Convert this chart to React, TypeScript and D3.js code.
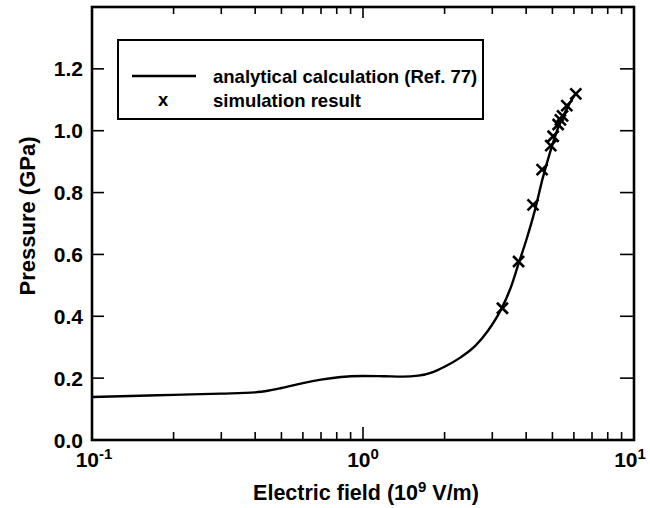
import React from "react";
import * as d3 from "d3";

const curveE = [0.1, 0.15, 0.2, 0.3, 0.4, 0.45, 0.5, 0.6, 0.7, 0.8, 0.9, 1.0, 1.2, 1.4, 1.6, 1.8, 2.0, 2.3, 2.6, 2.9, 3.2, 3.5, 3.75, 4.0, 4.3, 4.6, 4.9, 5.2, 5.5, 5.8, 6.1];
const curveP = [0.139, 0.143, 0.146, 0.150, 0.154, 0.160, 0.168, 0.184, 0.195, 0.202, 0.206, 0.207, 0.206, 0.205, 0.208, 0.219, 0.237, 0.268, 0.305, 0.355, 0.415, 0.49, 0.57, 0.645, 0.74, 0.845, 0.93, 1.0, 1.05, 1.09, 1.12];

const simE = [3.27, 3.75, 4.24, 4.58, 4.93, 5.03, 5.25, 5.35, 5.45, 5.65, 6.1];
const simP = [0.426, 0.577, 0.76, 0.874, 0.952, 0.982, 1.02, 1.035, 1.048, 1.081, 1.119];

const yTicks = [0, 0.2, 0.4, 0.6, 0.8, 1.0, 1.2];
const xDecades = [0.1, 1, 10];
const xDecadeExp = ["-1", "0", "1"];

const legendLabels = ["analytical calculation (Ref. 77)", "simulation result"];

const W = 650, H = 508;
const L = 92, R = 634, T = 7, B = 440;
const FONT = "'Liberation Sans', Arial, Helvetica, sans-serif";

export default function App() {
  const x = d3.scaleLog().domain([0.1, 10]).range([L, R]);
  const y = d3.scaleLinear().domain([0, 1.4]).range([B, T]);

  const minor: number[] = [];
  for (const d of [0.1, 1]) for (let k = 2; k <= 9; k++) minor.push(d * k);

  const line = d3
    .line<number>()
    .x((_, i) => x(curveE[i]))
    .y((v) => y(v))
    .curve(d3.curveMonotoneX);
  const path = line(curveP) || "";

  const cross = (cx: number, cy: number, s: number, key: string | number) => (
    <path key={key} d={`M${cx - s},${cy - s}L${cx + s},${cy + s}M${cx - s},${cy + s}L${cx + s},${cy - s}`} stroke="#000" strokeWidth={2.6} fill="none" />
  );

  return (
    <svg width={W} height={H} style={{ position: "absolute", left: 0, top: 0, background: "#fff" }} fontFamily={FONT} fontWeight="bold">
      <rect x={0} y={0} width={W} height={H} fill="#fff" />
      {yTicks.map((t) => (
        <g key={"y" + t}>
          <line x1={L} x2={L + 12} y1={y(t)} y2={y(t)} stroke="#000" strokeWidth={1.6} />
          <line x1={R - 14} x2={R} y1={y(t)} y2={y(t)} stroke="#000" strokeWidth={1.6} />
          <text x={L - 9} y={y(t)} dy="0.36em" textAnchor="end" fontSize={21}>
            {t.toFixed(1)}
          </text>
        </g>
      ))}
      {minor.map((m) => (
        <g key={"m" + m}>
          <line x1={x(m)} x2={x(m)} y1={B} y2={B - 8} stroke="#000" strokeWidth={1.6} />
          <line x1={x(m)} x2={x(m)} y1={T} y2={T + 7} stroke="#000" strokeWidth={1.6} />
        </g>
      ))}
      {xDecades.map((d, i) => (
        <g key={"d" + d}>
          <line x1={x(d)} x2={x(d)} y1={B} y2={B - 13} stroke="#000" strokeWidth={1.6} />
          <line x1={x(d)} x2={x(d)} y1={T} y2={T + 11} stroke="#000" strokeWidth={1.6} />
          <text x={x(d) + (i === 0 ? 2 : i === 2 ? -4 : 0)} y={B + 27} textAnchor="middle" fontSize={21}>
            10
            <tspan dy={-8} fontSize={15}>{xDecadeExp[i]}</tspan>
          </text>
        </g>
      ))}
      <path d={path} fill="none" stroke="#000" strokeWidth={2.4} />
      {simE.map((e, i) => cross(x(e), y(simP[i]), 5.5, "s" + i))}
      <rect x={L} y={T} width={R - L} height={B - T} fill="none" stroke="#000" strokeWidth={2.6} />
      <rect x={118} y={40} width={365} height={79} fill="#fff" stroke="#000" strokeWidth={2} />
      <line x1={132} x2={196} y1={76} y2={76} stroke="#000" strokeWidth={2.4} />
      <text x={158} y={106} fontSize={18.5} textAnchor="start">x</text>
      <text x={213} y={83} fontSize={18.5}>{legendLabels[0]}</text>
      <text x={213} y={107} fontSize={18.5}>{legendLabels[1]}</text>
      <text x={366} y={500} textAnchor="middle" fontSize={21.5}>
        Electric field (10
        <tspan dy={-8} fontSize={15}>9</tspan>
        <tspan dy={8}> V/m)</tspan>
      </text>
      <text transform={`translate(35,216) rotate(-90)`} textAnchor="middle" fontSize={22}>
        Pressure (GPa)
      </text>
    </svg>
  );
}
